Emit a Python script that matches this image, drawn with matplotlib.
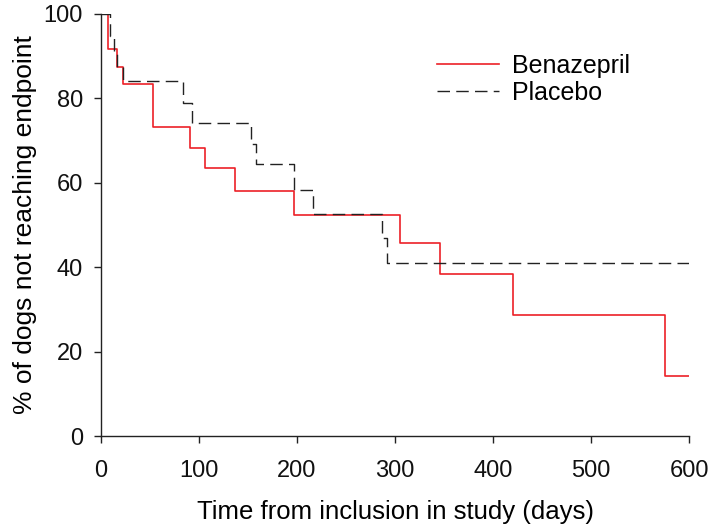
import matplotlib
matplotlib.use('Agg')
import matplotlib.pyplot as plt

# Kaplan-Meier style step data
benaz_days = [0, 7.5, 16, 22, 53, 90.5, 106, 137, 197, 305, 346, 420, 575, 600]
benaz_pct = [100, 91.7, 87.5, 83.3, 73.2, 68.3, 63.4, 58.1, 52.3, 45.8, 38.3, 28.7, 14.3, 14.3]

placebo_days = [0, 9, 13, 16, 22, 84, 92.5, 153, 158.5, 197, 216, 287, 291.5, 600]
placebo_pct = [100, 94.7, 91.0, 87.5, 84.2, 79.0, 74.1, 69.3, 64.4, 58.4, 52.5, 47.0, 40.9, 40.9]

x_ticks = [0, 100, 200, 300, 400, 500, 600]
y_ticks = [0, 20, 40, 60, 80, 100]

plt.rcParams['font.family'] = ['Liberation Sans', 'DejaVu Sans']

fig = plt.figure(figsize=(7.09, 5.28), dpi=100)
ax = fig.add_axes([0.1425, 0.1742, 0.8293, 0.7993])

ax.step(benaz_days, benaz_pct, where='post', color='#ec2027', lw=1.2, label='Benazepril')
ax.step(placebo_days, placebo_pct, where='post', color='#222222', lw=1.0,
        dashes=(9, 4.5), label='Placebo')

ax.set_xlim(0, 600)
ax.set_ylim(0, 100)
ax.set_xticks(x_ticks)
ax.set_yticks(y_ticks)
ax.spines['top'].set_visible(False)
ax.spines['right'].set_visible(False)
for s in ('left', 'bottom'):
    ax.spines[s].set_linewidth(1.0)
    ax.spines[s].set_color('#222222')
ax.tick_params(direction='out', length=5, width=1.0, colors='#222222',
               labelcolor='#111111', labelsize=17)
ax.tick_params(axis='x', pad=12)
ax.tick_params(axis='y', pad=8)

ax.set_xlabel('Time from inclusion in study (days)', fontsize=18.5, labelpad=13)
ax.set_ylabel('% of dogs not reaching endpoint', fontsize=19, labelpad=5)

ax.legend(loc='upper left', bbox_to_anchor=(0.571, 0.905), frameon=False,
          fontsize=18, handlelength=2.5, handletextpad=0.5, labelspacing=0.12,
          borderpad=0, borderaxespad=0)

fig.savefig('out.png', dpi=100)
